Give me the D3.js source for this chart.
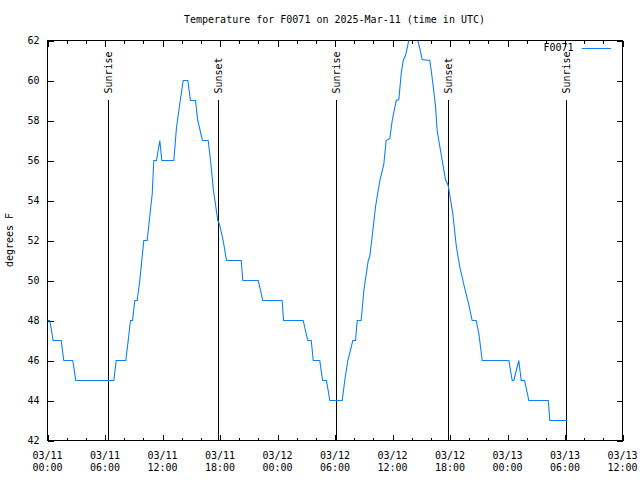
<!DOCTYPE html>
<html><head><meta charset="utf-8">
<script src="https://cdn.jsdelivr.net/npm/d3@7"></script>
<style>
body{margin:0;background:#fff}
text{font-family:"DejaVu Sans Mono","Liberation Mono",monospace;font-size:10px;fill:#000}
</style>
</head><body><svg id="c" width="640" height="480"></svg>
<script>
// ---- data (hours after 2025-03-11 00:00 UTC, temperature °F) ----
const title = "Temperature for F0071 on 2025-Mar-11 (time in UTC)";
const seriesName = "F0071";
const yLabel = "degrees F";
const hours = [0,0.24,0.59,1.43,1.70,2.64,2.95,6.92,7.17,8.17,8.42,8.66,8.87,9.11,9.36,9.63,10.05,10.40,10.93,11.09,11.37,11.72,11.93,13.18,13.46,13.81,14.16,14.64,14.92,15.44,15.68,16.17,16.77,17.01,17.32,17.77,17.95,18.33,18.68,20.21,20.38,21.99,22.47,24.49,24.63,26.68,27.16,27.52,27.73,28.41,28.70,29.11,29.46,30.75,31.02,31.34,31.86,32.14,32.32,32.73,33.01,33.47,33.63,33.88,34.23,34.68,35.09,35.34,35.72,35.97,36.39,36.66,36.91,37.12,37.36,37.70,38.14,38.64,38.85,39.10,39.89,40.04,40.25,40.49,40.66,41.01,41.53,41.81,42.29,42.65,42.99,43.44,43.96,44.31,44.73,45.01,45.36,48.14,48.49,48.66,49.18,49.43,49.78,50.23,52.25,52.42,54.23];
const temps = [48,48,47,47,46,46,45,45,46,46,47,48,48,49,49,50,52,52,54.35,56,56,57,56,56,57.65,58.85,60,60,59,59,58,57,57,56,54.5,53,52.8,52,51,51,50,50,49,49,48,48,47,47,46,46,45,45,44,44,45,46,47,47,48,48,49.5,51,51.2,52.2,53.7,55,55.8,57,57.1,58,59,59.05,60.35,61,61.25,62,62.6,62,61.6,61.05,61,60.5,59.7,58.7,57.5,56.5,55.05,54.75,53.35,51.75,50.75,49.8,48.8,48,48,47.35,46,46,45,45,46,45,45,44,44,43,43];
const sunHours = [6.33,17.88,30.17,41.88,54.19];
const sunLabels = ["Sunrise","Sunset","Sunrise","Sunset","Sunrise"];
const yTicks = [42,44,46,48,50,52,54,56,58,60,62];
const xStartHour = 0, xEndHour = 60;

// ---- layout ----
const svg = d3.select("#c");
const L = 47, T = 40, W = 575, H = 400;
const t0 = Date.UTC(2025, 2, 11, 0, 0);
const toDate = h => new Date(t0 + h * 3600e3);
const data = hours.map((h, i) => ({t: toDate(h), v: temps[i]}));

const x = d3.scaleUtc().domain([toDate(xStartHour), toDate(xEndHour)]).range([0, W]);
const y = d3.scaleLinear().domain([42, 62]).range([H, 0]);

const g = svg.append("g").attr("transform", `translate(${L + 0.5},${T + 0.5})`);

const major = d3.utcHour.every(6).range(toDate(xStartHour), toDate(xEndHour + 0.01));
const minor = d3.utcHour.every(2).range(toDate(xStartHour), toDate(xEndHour + 0.01))
  .filter(d => d.getUTCHours() % 6 !== 0);

function styleAxis(sel) {
  sel.select(".domain").remove();
  sel.selectAll("line").attr("stroke", "#000").attr("shape-rendering", "crispEdges");
  sel.selectAll("text").attr("font-family", null).attr("font-size", null);
}

// x axes (bottom/top), major & minor, inward
g.append("g").attr("transform", `translate(0,${H})`)
  .call(d3.axisBottom(x).tickValues(major).tickSize(-6).tickFormat("")).call(styleAxis);
g.append("g").attr("transform", `translate(0,${H})`)
  .call(d3.axisBottom(x).tickValues(minor).tickSize(-3).tickFormat("")).call(styleAxis);
g.append("g")
  .call(d3.axisTop(x).tickValues(major).tickSize(-6).tickFormat("")).call(styleAxis);
g.append("g")
  .call(d3.axisTop(x).tickValues(minor).tickSize(-3).tickFormat("")).call(styleAxis);

// x labels, two lines
const fmtD = d3.utcFormat("%m/%d"), fmtT = d3.utcFormat("%H:%M");
const xl = g.append("g").selectAll("text").data(major).join("text")
  .attr("text-anchor", "middle").attr("transform", d => `translate(${x(d)},0)`);
xl.append("tspan").attr("x", 0).attr("y", H + 18).text(d => fmtD(d));
xl.append("tspan").attr("x", 0).attr("y", H + 30).text(d => fmtT(d));

// y axes
g.append("g").call(d3.axisLeft(y).tickValues(yTicks).tickSize(-6).tickPadding(8).tickFormat(d3.format("d"))).call(styleAxis);
g.append("g").attr("transform", `translate(${W},0)`)
  .call(d3.axisRight(y).tickValues(yTicks).tickSize(-6).tickFormat("")).call(styleAxis);

// border
g.append("rect").attr("x", 0).attr("y", 0).attr("width", W).attr("height", H)
  .attr("fill", "none").attr("stroke", "#000").attr("shape-rendering", "crispEdges");

// clip
svg.append("defs").append("clipPath").attr("id", "clip")
  .append("rect").attr("x", 0).attr("y", 0).attr("width", W).attr("height", H);

// sunrise/sunset markers
const sunTop = H * 0.1475;
const sg = g.append("g");
sg.selectAll("line").data(sunHours).join("line")
  .attr("x1", d => Math.round(x(toDate(d)))).attr("x2", d => Math.round(x(toDate(d))))
  .attr("y1", sunTop).attr("y2", H).attr("stroke", "#000").attr("shape-rendering", "crispEdges");
sg.selectAll("text").data(sunHours).join("text")
  .attr("transform", d => `translate(${Math.round(x(toDate(d)))},${sunTop - 6}) rotate(-90)`)
  .attr("dy", "0.35em").attr("text-anchor", "start")
  .text((d, i) => sunLabels[i]);

// data line
const line = d3.line().x(d => x(d.t)).y(d => y(d.v));
g.append("path").datum(data).attr("clip-path", "url(#clip)")
  .attr("d", line).attr("fill", "none").attr("stroke", "#0a80f5").attr("stroke-width", 1.1);

// legend
g.append("text").attr("x", 573 - L).attr("y", 50.5 - T).attr("text-anchor", "end").text(seriesName);
g.append("line").attr("x1", 581 - L).attr("x2", 610 - L).attr("y1", 48 - T).attr("y2", 48 - T)
  .attr("stroke", "#0a80f5").attr("stroke-width", 1.1).attr("shape-rendering", "crispEdges");

// title
svg.append("text").attr("x", L + W / 2).attr("y", 23).attr("text-anchor", "middle").text(title);

// y label
svg.append("text").attr("transform", `translate(13,240) rotate(-90)`).attr("text-anchor", "middle").text(yLabel);
</script></body></html>
